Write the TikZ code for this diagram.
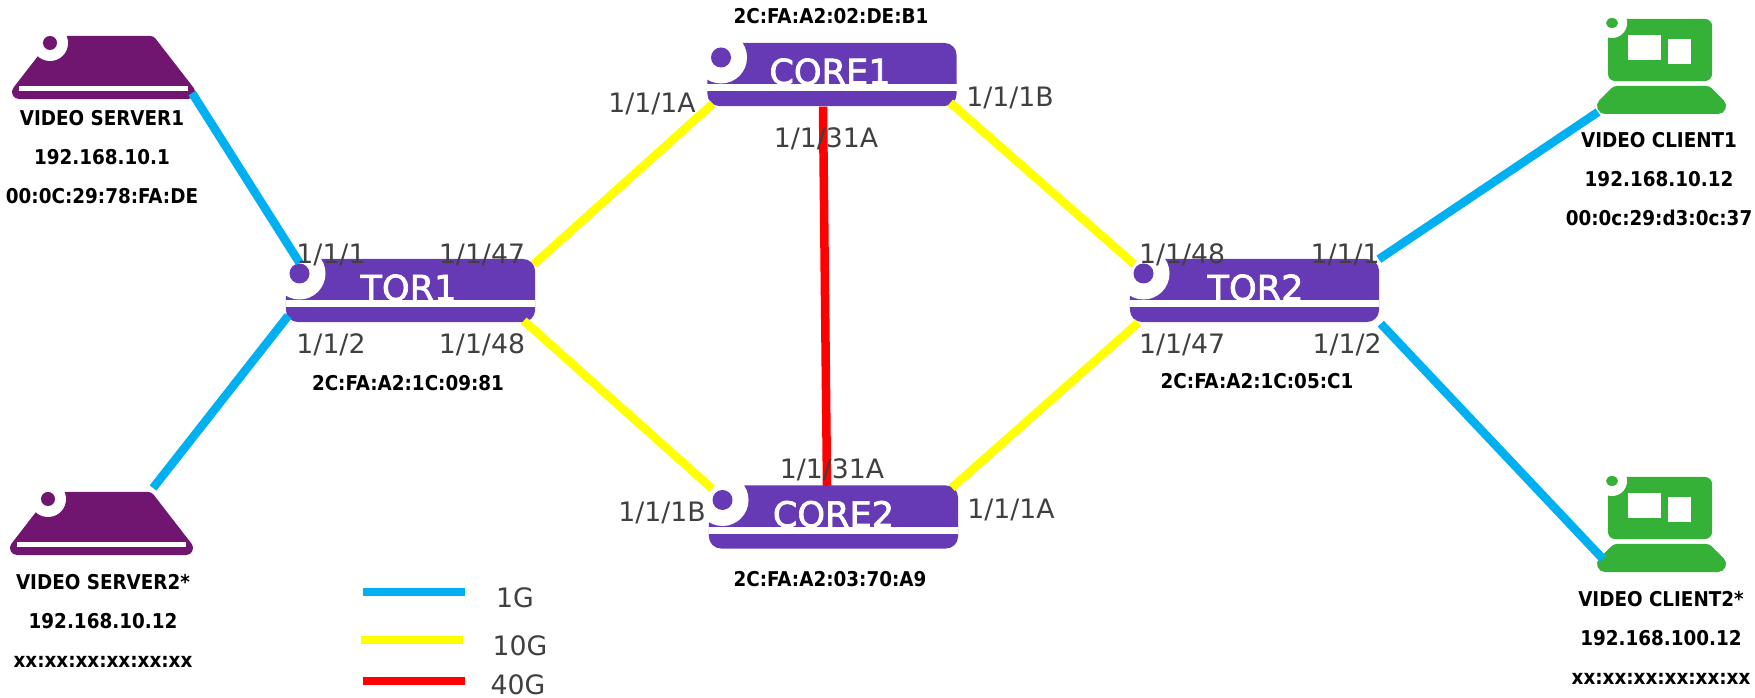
\documentclass[tikz,border=0pt]{standalone}
\usepackage{fontspec}
\setmainfont{DejaVu Sans}
\newfontfamily\infofont{DejaVu Sans Condensed}
\newfontfamily\titlefont[FakeBold=2]{DejaVu Sans}
\usetikzlibrary{shapes.geometric}
\definecolor{swviolet}{HTML}{6639B5}
\definecolor{srvplum}{HTML}{701570}
\definecolor{cligreen}{HTML}{35B137}
\definecolor{gigblue}{HTML}{00B0F0}
\definecolor{gigyellow}{RGB}{255,255,0}
\definecolor{gigred}{RGB}{255,0,0}
\definecolor{portgrey}{HTML}{404040}
\tikzset{
    switchbox/.style={fill=swviolet, rounded corners=.12cm, minimum width=2.49cm, minimum height=.63cm, inner sep=0},
    switchtitle/.style={text=white, font=\titlefont\fontsize{10}{11}\selectfont, inner sep=0, anchor=base},
    serverbox/.style={minimum width=1.69cm, minimum height=.49cm, inner sep=0, outer sep=0},
    serverbody/.style={fill=srvplum, draw=srvplum, line width=.14cm, line join=round},
    screenbox/.style={fill=cligreen, rounded corners=.07cm, minimum width=1.04cm, minimum height=.62cm, inner sep=0},
    basebox/.style={minimum width=1.13cm, minimum height=.12cm, inner sep=0, outer sep=0},
    basebody/.style={fill=cligreen, draw=cligreen, line width=.16cm, line join=round},
    holemark/.style={circle, fill=white, minimum size=#1, inner sep=0},
    dotmark/.style={circle, fill=#1, inner sep=0},
    barmark/.style={fill=white, inner sep=0},
    portlab/.style={text=portgrey, font=\fontsize{7.6}{9}\selectfont, inner sep=0, yshift=-.03cm},
    infolab/.style={font=\infofont\bfseries\fontsize{5.8}{11.1}\selectfont, align=center, inner sep=0},
    onegig/.style={gigblue, line width=.085cm},
    tengig/.style={gigyellow, line width=.085cm},
    fortygig/.style={gigred, line width=.085cm},
}
\begin{document}
\begin{tikzpicture}[x=.01cm, y=-.01cm]
    \useasboundingbox (0,0) rectangle (1755,698);
    % switches
    \foreach \name/\x/\y/\dx/\title in {tor1/410.5/290.5/-2/TOR1, tor2/1254.5/290.5/1/TOR2, core1/832/74.5/-2/CORE1, core2/833.5/517/0/CORE2}{
        \node[switchbox] (\name) at (\x,\y) {};
        \node[barmark, minimum width=2.49cm, minimum height=.07cm] (\name bar) at ([shift={(0,13.5)}]\name.center) {};
        \node[switchtitle] (\name title) at ([shift={(\dx,10)}]\name.center) {\title};
        \node[holemark=.52cm] (\name hole) at ([shift={(-111,-17)}]\name.center) {};
        \node[dotmark=swviolet, minimum size=.2cm] (\name dot) at (\name hole.center) {};
    }
    % servers
    \foreach \name/\x/\y/\hx/\hy/\by in {server1/103.5/67.5/50/43/88.5, server2/101.5/523.5/48/499/544.5}{
        \node[serverbox] (\name) at (\x,\y) {};
        \draw[serverbody] (\name.south west) -- (\name.south east) -- ([shift={(-38,0)}]\name.north east) -- ([shift={(38,0)}]\name.north west) -- cycle;
        \node[holemark=.36cm] (\name hole) at (\hx,\hy) {};
        \node[dotmark=srvplum, minimum size=.14cm] (\name dot) at (\hx,\hy) {};
        \node[barmark, minimum width=1.69cm, minimum height=.05cm] (\name bar) at (\x,\by) {};
    }
    % clients
    \foreach \name/\y in {client1/0, client2/458}{
        \node[screenbox] (\name) at (1660,50+\y) {};
        \node[basebox] (\name base) at (1661.5,100+\y) {};
        \draw[basebody] (\name base.south west) -- (\name base.south east) -- ([shift={(-12,0)}]\name base.north east) -- ([shift={(12,0)}]\name base.north west) -- cycle;
        \node[holemark=.3cm] (\name hole) at (1612,23+\y) {};
        \node[ellipse, fill=cligreen, inner sep=0, minimum width=.12cm, minimum height=.1cm] (\name dot) at (1612,23+\y) {};
        \node[barmark, minimum width=.33cm, minimum height=.25cm] (\name winA) at (1644.5,47.5+\y) {};
        \node[barmark, minimum width=.23cm, minimum height=.25cm] (\name winB) at (1679.5,51.5+\y) {};
    }
    % links
    \draw[onegig] ([shift={(4,1)}]server1.south east) -- (tor1dot.north);
    \draw[onegig] ([shift={(-33,-11)}]server2.north east) -- ([shift={(3,-7)}]tor1.south west);
    \draw[tengig] ([shift={(-2,6)}]tor1.north east) -- ([shift={(6,-3)}]core1.south west);
    \draw[tengig] ([shift={(-12,-2)}]tor1.south east) -- ([shift={(4,4)}]core2.north west);
    \draw[tengig] ([shift={(-7,-4)}]core1.south east) -- ([shift={(5,6)}]tor2.north west);
    \draw[tengig] ([shift={(-7,3)}]core2.north east) -- ([shift={(9,0)}]tor2.south west);
    \draw[fortygig] ([shift={(-9,0)}]core1.south) -- ([shift={(-6.5,1)}]core2.north);
    \draw[onegig] ([shift={(-1,1)}]tor2.north east) -- ([shift={(-7,6)}]client1base.south west);
    \draw[onegig] ([shift={(1,1)}]tor2.south east) -- ([shift={(-2,-5)}]client2base.south west);
    % ports
    \node[portlab] (pA) at (331,252) {1/1/1};
    \node[portlab] (pB) at (482,252) {1/1/47};
    \node[portlab] (pC) at (331,342) {1/1/2};
    \node[portlab] (pD) at (482,342) {1/1/48};
    \node[portlab] (pE) at (1182,252) {1/1/48};
    \node[portlab] (pF) at (1345,252) {1/1/1};
    \node[portlab] (pG) at (1182,342) {1/1/47};
    \node[portlab] (pH) at (1347,342) {1/1/2};
    \node[portlab] (pI) at (652,101) {1/1/1A};
    \node[portlab] (pJ) at (1010,95) {1/1/1B};
    \node[portlab] (pK) at (826,136) {1/1/31A};
    \node[portlab] (pL) at (832,467) {1/1/31A};
    \node[portlab] (pM) at (662,510) {1/1/1B};
    \node[portlab] (pN) at (1011,507) {1/1/1A};
    % addresses
    \node[infolab] (server1info) at (102,157) {VIDEO SERVER1\\192.168.10.1\\00:0C:29:78:FA:DE};
    \node[infolab] (server2info) at (103,621) {VIDEO SERVER2*\\192.168.10.12\\xx:xx:xx:xx:xx:xx};
    \node[infolab] (client1info) at (1659,179) {VIDEO CLIENT1\\192.168.10.12\\00:0c:29:d3:0c:37};
    \node[infolab] (client2info) at (1661,638) {VIDEO CLIENT2*\\192.168.100.12\\xx:xx:xx:xx:xx:xx};
    \node[infolab] (tor1info) at (408,383) {2C:FA:A2:1C:09:81};
    \node[infolab] (tor2info) at (1257,381) {2C:FA:A2:1C:05:C1};
    \node[infolab] (core1info) at (831,16) {2C:FA:A2:02:DE:B1};
    \node[infolab] (core2info) at (830,579) {2C:FA:A2:03:70:A9};
    % legend
    \node[portlab] (leg1) at (515,595) {1G};
    \node[portlab] (leg2) at (520,643) {10G};
    \node[portlab] (leg3) at (518,682) {40G};
    \coordinate (leg1a) at (363,592);
    \coordinate (leg1b) at (465,592);
    \coordinate (leg2a) at (361,640);
    \coordinate (leg2b) at (463,640);
    \coordinate (leg3a) at (363,681);
    \coordinate (leg3b) at (465,681);
    \draw[onegig] (leg1a) -- (leg1b);
    \draw[tengig] (leg2a) -- (leg2b);
    \draw[fortygig] (leg3a) -- (leg3b);
\end{tikzpicture}
\end{document}
